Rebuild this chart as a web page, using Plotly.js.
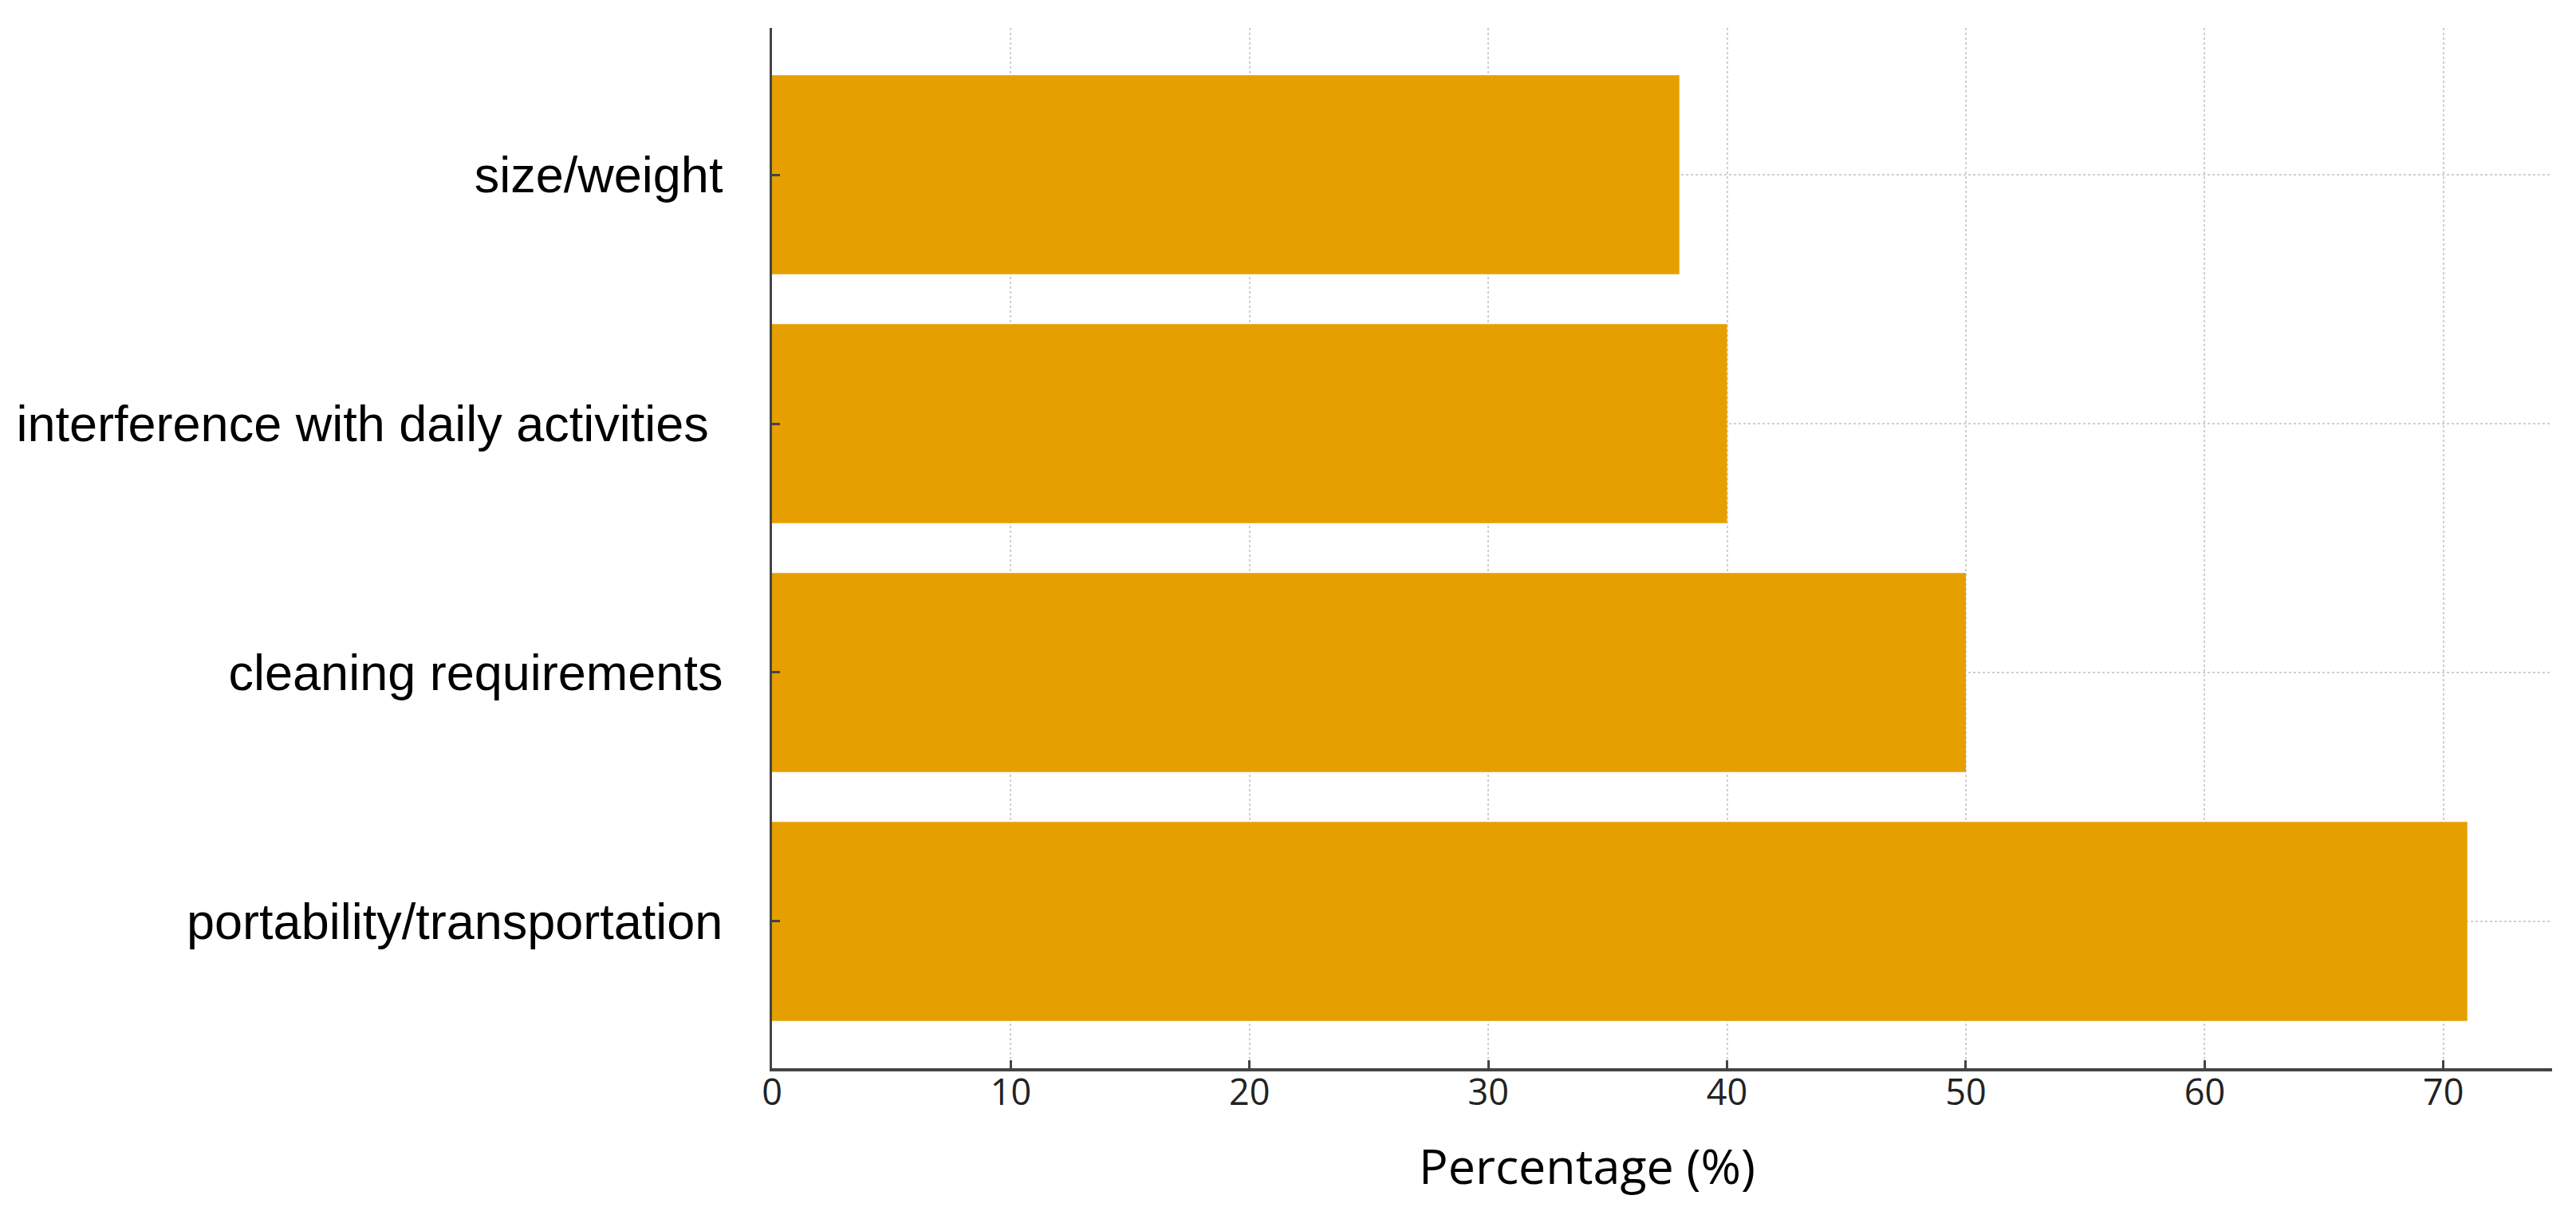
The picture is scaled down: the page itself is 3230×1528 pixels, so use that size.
<!DOCTYPE html>
<html>
<head>
<meta charset="utf-8">
<script src="https://cdn.plot.ly/plotly-3.0.1.min.js"></script>
<style>
  html, body { margin: 0; padding: 0; background: #fff; }
  #chart { width: 3230px; height: 1528px; }
</style>
</head>
<body>
<div id="chart"></div>
<script>
// bottom to top, as plotly stacks categories
var issues = ['portability/transportation', 'cleaning requirements', 'interference with daily activities\u00a0', 'size/weight'];
var percentages = [71, 50, 40, 38];
var xTicks = [0, 10, 20, 30, 40, 50, 60, 70];

var trace = {
  type: 'bar',
  orientation: 'h',
  y: issues,
  x: percentages,
  width: 0.8,
  marker: {color: '#E69F00', line: {width: 0}},
  hoverinfo: 'x+y'
};

var layout = {
  width: 3230,
  height: 1528,
  margin: {l: 968, r: 30, t: 35, b: 189},
  paper_bgcolor: '#fff',
  plot_bgcolor: '#fff',
  showlegend: false,
  xaxis: {
    range: [0, 74.55],
    tickvals: xTicks,
    ticks: 'inside',
    ticklen: 10,
    tickwidth: 3,
    tickcolor: '#444',
    showline: true,
    linecolor: '#444',
    linewidth: 4,
    showgrid: true,
    gridcolor: '#cfcfcf',
    gridwidth: 2,
    griddash: 'dot',
    zeroline: false,
    ticklabelstandoff: -12,
    tickfont: {family: 'Open Sans', size: 45, color: '#222'},
    automargin: false
  },
  yaxis: {
    type: 'category',
    range: [-0.59, 3.59],
    ticks: 'inside',
    ticklen: 10,
    tickwidth: 3,
    tickcolor: '#444',
    showline: true,
    linecolor: '#444',
    linewidth: 3,
    showgrid: true,
    gridcolor: '#cfcfcf',
    gridwidth: 2,
    griddash: 'dot',
    zeroline: false,
    ticklabelstandoff: 46,
    tickfont: {family: 'Liberation Sans', size: 63, color: '#000'},
    automargin: false
  },
  // axis title sits left of the plot centre in the original, so place it by hand
  annotations: [{
    text: 'Percentage (%)',
    xref: 'paper', yref: 'paper',
    x: 0.4579, y: -0.0928,
    xanchor: 'center', yanchor: 'middle',
    showarrow: false,
    font: {family: 'Open Sans', size: 61, color: '#000'}
  }]
};

Plotly.newPlot('chart', [trace], layout, {displayModeBar: false, staticPlot: true});
</script>
</body>
</html>
